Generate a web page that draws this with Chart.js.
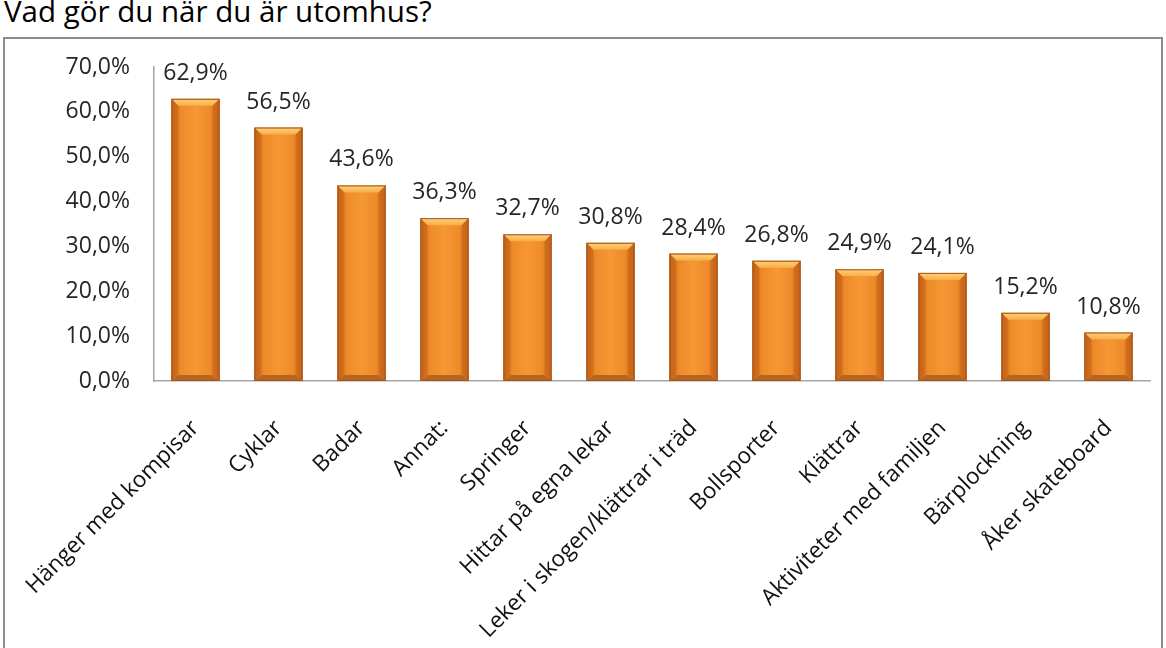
<!DOCTYPE html>
<html>
<head>
<meta charset="utf-8">
<script src="https://cdn.jsdelivr.net/npm/chart.js@4.4.0/dist/chart.umd.min.js"></script>
<style>
  body { margin: 0; background: #fff; width: 1166px; height: 648px; overflow: hidden; position: relative; }
  #title { position: absolute; left: 4px; top: -10px; font: 29.5px "Open Sans", sans-serif; color: #000; white-space: nowrap; }
  #box { position: absolute; left: 3px; top: 37px; width: 1156px; height: 640px; border: 2px solid #8c8c8c; }
  #wrap { position: relative; width: 1156px; height: 609px; }
</style>
</head>
<body>
<div id="title">Vad gör du när du är utomhus?</div>
<div id="box"><div id="wrap"><canvas id="myChart"></canvas></div></div>
<script>
const categories = ['Hänger med kompisar', 'Cyklar', 'Badar', 'Annat:', 'Springer', 'Hittar på egna lekar',
    'Leker i skogen/klättrar i träd', 'Bollsporter', 'Klättrar', 'Aktiviteter med familjen', 'Bärplockning', 'Åker skateboard'];
const values = [62.9, 56.5, 43.6, 36.3, 32.7, 30.8, 28.4, 26.8, 24.9, 24.1, 15.2, 10.8];
const yTicks = [0, 10, 20, 30, 40, 50, 60, 70];

const font = '"Open Sans", sans-serif';
const fmt = v => v.toFixed(1).replace('.', ',') + '%';

// bevel look on each bar, drawn from the bar elements
const bevel = {
    id: 'bevel',
    afterDatasetsDraw(chart) {
        const c = chart.ctx;
        chart.getDatasetMeta(0).data.forEach((bar, i) => {
            const l = bar.x - bar.width / 2, r = bar.x + bar.width / 2;
            const t = bar.y, b = bar.base, e = 7;
            c.save();
            let g = c.createLinearGradient(l, 0, r, 0);
            g.addColorStop(0, '#d46a18');
            g.addColorStop(0.2, '#ee8a2a');
            g.addColorStop(0.5, '#f59834');
            g.addColorStop(0.8, '#ee8a2a');
            g.addColorStop(1, '#d46a18');
            c.fillStyle = g;
            c.fillRect(l, t, r - l, b - t);
            // top
            let gt = c.createLinearGradient(0, t, 0, t + e);
            gt.addColorStop(0, '#fdd27a');
            gt.addColorStop(1, '#f9ad4a');
            c.fillStyle = gt;
            c.beginPath(); c.moveTo(l, t); c.lineTo(r, t); c.lineTo(r - e, t + e); c.lineTo(l + e, t + e); c.closePath(); c.fill();
            // bottom
            c.fillStyle = '#b8661f';
            c.beginPath(); c.moveTo(l, b); c.lineTo(r, b); c.lineTo(r - e, b - e + 1); c.lineTo(l + e, b - e + 1); c.closePath(); c.fill();
            // sides
            c.fillStyle = 'rgba(170,80,20,0.35)';
            c.beginPath(); c.moveTo(l, t); c.lineTo(l + e, t + e); c.lineTo(l + e, b - e); c.lineTo(l, b); c.closePath(); c.fill();
            c.beginPath(); c.moveTo(r, t); c.lineTo(r - e, t + e); c.lineTo(r - e, b - e); c.lineTo(r, b); c.closePath(); c.fill();
            c.strokeStyle = '#a0561f';
            c.lineWidth = 1;
            c.strokeRect(l + 0.5, t + 0.5, r - l - 1, b - t - 1);
            // value label
            c.fillStyle = '#262626';
            c.font = '23px ' + font;
            c.textAlign = 'center';
            c.textBaseline = 'alphabetic';
            c.fillText(fmt(values[i]), bar.x, t - 19);
            c.restore();
        });
    }
};

const ctx = document.getElementById('myChart').getContext('2d');
const myChart = new Chart(ctx, {
    type: 'bar',
    data: {
        labels: categories,
        datasets: [{
            data: values,
            backgroundColor: '#f08c2c',
            barPercentage: 0.58,
            categoryPercentage: 1
        }]
    },
    options: {
        responsive: true,
        maintainAspectRatio: false,
        animation: false,
        layout: { padding: { top: 28, right: 11, left: 0, bottom: 0 } },
        scales: {
            x: {
                grid: { display: false, drawTicks: false },
                border: { color: '#a6a6a6', width: 1.5 },
                ticks: { color: '#111', font: { family: font, size: 22.5 }, minRotation: 45, maxRotation: 45, padding: 34 },
                afterFit(scale) {
                    scale.height = 267;
                    scale.paddingLeft = 0;
                    scale.paddingRight = 0;
                }
            },
            y: {
                min: 0,
                max: 70,
                grid: { display: false, drawTicks: false },
                border: { color: '#a6a6a6', width: 1.5 },
                afterBuildTicks(scale) { scale.ticks = yTicks.map(v => ({ value: v })); },
                ticks: { color: '#262626', font: { family: font, size: 23 }, padding: 24, callback: v => fmt(v) },
                afterFit(scale) {
                    scale.width = 149;
                    scale.paddingTop = 0;
                    scale.paddingBottom = 0;
                }
            }
        },
        plugins: {
            legend: { display: false },
            tooltip: { enabled: false }
        }
    },
    plugins: [bevel]
});
</script>
</body>
</html>
